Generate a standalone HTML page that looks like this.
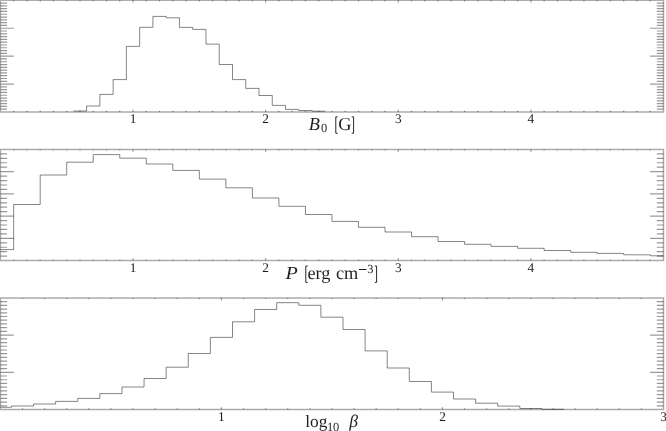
<!DOCTYPE html>
<html><head><meta charset="utf-8"><style>
html,body{margin:0;padding:0;background:#fff;width:666px;height:431px;overflow:hidden}
svg{display:block;will-change:transform;text-rendering:geometricPrecision}
.t{font-family:"Liberation Serif",serif;font-size:13.3px;text-anchor:middle;fill:#1e1e1e}
.ti{font-family:"Liberation Serif",serif;fill:#1e1e1e}
</style></head><body>
<svg width="666" height="431" viewBox="0 0 666 431">
<g fill="none" stroke="#000">
<path stroke-width="1.5" stroke-opacity="0.33" d="M0.4 0.3H663.5V112H0.4ZM0.4 149.4H663.5V260.6H0.4ZM0.4 297.9H663.5V409.5H0.4Z"/>
<path stroke-width="1.2" stroke-opacity="0.4" d="M13.66 112L13.66 110.8M13.66 0.3L13.66 1.5M26.92 112L26.92 110.8M26.92 0.3L26.92 1.5M40.19 112L40.19 110.8M40.19 0.3L40.19 1.5M53.45 112L53.45 110.8M53.45 0.3L53.45 1.5M66.71 112L66.71 110.8M66.71 0.3L66.71 1.5M79.97 112L79.97 110.8M79.97 0.3L79.97 1.5M93.23 112L93.23 110.8M93.23 0.3L93.23 1.5M106.5 112L106.5 110.8M106.5 0.3L106.5 1.5M119.76 112L119.76 110.8M119.76 0.3L119.76 1.5M133.02 112L133.02 109.7M133.02 0.3L133.02 2.6M146.28 112L146.28 110.8M146.28 0.3L146.28 1.5M159.54 112L159.54 110.8M159.54 0.3L159.54 1.5M172.81 112L172.81 110.8M172.81 0.3L172.81 1.5M186.07 112L186.07 110.8M186.07 0.3L186.07 1.5M199.33 112L199.33 110.8M199.33 0.3L199.33 1.5M212.59 112L212.59 110.8M212.59 0.3L212.59 1.5M225.85 112L225.85 110.8M225.85 0.3L225.85 1.5M239.12 112L239.12 110.8M239.12 0.3L239.12 1.5M252.38 112L252.38 110.8M252.38 0.3L252.38 1.5M265.64 112L265.64 109.7M265.64 0.3L265.64 2.6M278.9 112L278.9 110.8M278.9 0.3L278.9 1.5M292.16 112L292.16 110.8M292.16 0.3L292.16 1.5M305.43 112L305.43 110.8M305.43 0.3L305.43 1.5M318.69 112L318.69 110.8M318.69 0.3L318.69 1.5M331.95 112L331.95 110.8M331.95 0.3L331.95 1.5M345.21 112L345.21 110.8M345.21 0.3L345.21 1.5M358.47 112L358.47 110.8M358.47 0.3L358.47 1.5M371.74 112L371.74 110.8M371.74 0.3L371.74 1.5M385 112L385 110.8M385 0.3L385 1.5M398.26 112L398.26 109.7M398.26 0.3L398.26 2.6M411.52 112L411.52 110.8M411.52 0.3L411.52 1.5M424.78 112L424.78 110.8M424.78 0.3L424.78 1.5M438.05 112L438.05 110.8M438.05 0.3L438.05 1.5M451.31 112L451.31 110.8M451.31 0.3L451.31 1.5M464.57 112L464.57 110.8M464.57 0.3L464.57 1.5M477.83 112L477.83 110.8M477.83 0.3L477.83 1.5M491.09 112L491.09 110.8M491.09 0.3L491.09 1.5M504.36 112L504.36 110.8M504.36 0.3L504.36 1.5M517.62 112L517.62 110.8M517.62 0.3L517.62 1.5M530.88 112L530.88 109.7M530.88 0.3L530.88 2.6M544.14 112L544.14 110.8M544.14 0.3L544.14 1.5M557.4 112L557.4 110.8M557.4 0.3L557.4 1.5M570.67 112L570.67 110.8M570.67 0.3L570.67 1.5M583.93 112L583.93 110.8M583.93 0.3L583.93 1.5M597.19 112L597.19 110.8M597.19 0.3L597.19 1.5M610.45 112L610.45 110.8M610.45 0.3L610.45 1.5M623.71 112L623.71 110.8M623.71 0.3L623.71 1.5M636.98 112L636.98 110.8M636.98 0.3L636.98 1.5M650.24 112L650.24 110.8M650.24 0.3L650.24 1.5M0.4 3.09L7.1 3.09M663.5 3.09L656.8 3.09M0.4 5.88L7.1 5.88M663.5 5.88L656.8 5.88M0.4 8.68L7.1 8.68M663.5 8.68L656.8 8.68M0.4 11.47L7.1 11.47M663.5 11.47L656.8 11.47M0.4 14.26L7.1 14.26M663.5 14.26L656.8 14.26M0.4 17.06L7.1 17.06M663.5 17.06L656.8 17.06M0.4 19.85L7.1 19.85M663.5 19.85L656.8 19.85M0.4 22.64L7.1 22.64M663.5 22.64L656.8 22.64M0.4 25.43L7.1 25.43M663.5 25.43L656.8 25.43M0.4 28.23L13.8 28.23M663.5 28.23L650.1 28.23M0.4 31.02L7.1 31.02M663.5 31.02L656.8 31.02M0.4 33.81L7.1 33.81M663.5 33.81L656.8 33.81M0.4 36.6L7.1 36.6M663.5 36.6L656.8 36.6M0.4 39.39L7.1 39.39M663.5 39.39L656.8 39.39M0.4 42.19L7.1 42.19M663.5 42.19L656.8 42.19M0.4 44.98L7.1 44.98M663.5 44.98L656.8 44.98M0.4 47.77L7.1 47.77M663.5 47.77L656.8 47.77M0.4 50.56L7.1 50.56M663.5 50.56L656.8 50.56M0.4 53.36L7.1 53.36M663.5 53.36L656.8 53.36M0.4 56.15L13.8 56.15M663.5 56.15L650.1 56.15M0.4 58.94L7.1 58.94M663.5 58.94L656.8 58.94M0.4 61.73L7.1 61.73M663.5 61.73L656.8 61.73M0.4 64.53L7.1 64.53M663.5 64.53L656.8 64.53M0.4 67.32L7.1 67.32M663.5 67.32L656.8 67.32M0.4 70.11L7.1 70.11M663.5 70.11L656.8 70.11M0.4 72.91L7.1 72.91M663.5 72.91L656.8 72.91M0.4 75.7L7.1 75.7M663.5 75.7L656.8 75.7M0.4 78.49L7.1 78.49M663.5 78.49L656.8 78.49M0.4 81.28L7.1 81.28M663.5 81.28L656.8 81.28M0.4 84.08L13.8 84.08M663.5 84.08L650.1 84.08M0.4 86.87L7.1 86.87M663.5 86.87L656.8 86.87M0.4 89.66L7.1 89.66M663.5 89.66L656.8 89.66M0.4 92.45L7.1 92.45M663.5 92.45L656.8 92.45M0.4 95.25L7.1 95.25M663.5 95.25L656.8 95.25M0.4 98.04L7.1 98.04M663.5 98.04L656.8 98.04M0.4 100.83L7.1 100.83M663.5 100.83L656.8 100.83M0.4 103.62L7.1 103.62M663.5 103.62L656.8 103.62M0.4 106.42L7.1 106.42M663.5 106.42L656.8 106.42M0.4 109.21L7.1 109.21M663.5 109.21L656.8 109.21M13.66 260.6L13.66 259.4M13.66 149.4L13.66 150.6M26.92 260.6L26.92 259.4M26.92 149.4L26.92 150.6M40.19 260.6L40.19 259.4M40.19 149.4L40.19 150.6M53.45 260.6L53.45 259.4M53.45 149.4L53.45 150.6M66.71 260.6L66.71 259.4M66.71 149.4L66.71 150.6M79.97 260.6L79.97 259.4M79.97 149.4L79.97 150.6M93.23 260.6L93.23 259.4M93.23 149.4L93.23 150.6M106.5 260.6L106.5 259.4M106.5 149.4L106.5 150.6M119.76 260.6L119.76 259.4M119.76 149.4L119.76 150.6M133.02 260.6L133.02 258.3M133.02 149.4L133.02 151.7M146.28 260.6L146.28 259.4M146.28 149.4L146.28 150.6M159.54 260.6L159.54 259.4M159.54 149.4L159.54 150.6M172.81 260.6L172.81 259.4M172.81 149.4L172.81 150.6M186.07 260.6L186.07 259.4M186.07 149.4L186.07 150.6M199.33 260.6L199.33 259.4M199.33 149.4L199.33 150.6M212.59 260.6L212.59 259.4M212.59 149.4L212.59 150.6M225.85 260.6L225.85 259.4M225.85 149.4L225.85 150.6M239.12 260.6L239.12 259.4M239.12 149.4L239.12 150.6M252.38 260.6L252.38 259.4M252.38 149.4L252.38 150.6M265.64 260.6L265.64 258.3M265.64 149.4L265.64 151.7M278.9 260.6L278.9 259.4M278.9 149.4L278.9 150.6M292.16 260.6L292.16 259.4M292.16 149.4L292.16 150.6M305.43 260.6L305.43 259.4M305.43 149.4L305.43 150.6M318.69 260.6L318.69 259.4M318.69 149.4L318.69 150.6M331.95 260.6L331.95 259.4M331.95 149.4L331.95 150.6M345.21 260.6L345.21 259.4M345.21 149.4L345.21 150.6M358.47 260.6L358.47 259.4M358.47 149.4L358.47 150.6M371.74 260.6L371.74 259.4M371.74 149.4L371.74 150.6M385 260.6L385 259.4M385 149.4L385 150.6M398.26 260.6L398.26 258.3M398.26 149.4L398.26 151.7M411.52 260.6L411.52 259.4M411.52 149.4L411.52 150.6M424.78 260.6L424.78 259.4M424.78 149.4L424.78 150.6M438.05 260.6L438.05 259.4M438.05 149.4L438.05 150.6M451.31 260.6L451.31 259.4M451.31 149.4L451.31 150.6M464.57 260.6L464.57 259.4M464.57 149.4L464.57 150.6M477.83 260.6L477.83 259.4M477.83 149.4L477.83 150.6M491.09 260.6L491.09 259.4M491.09 149.4L491.09 150.6M504.36 260.6L504.36 259.4M504.36 149.4L504.36 150.6M517.62 260.6L517.62 259.4M517.62 149.4L517.62 150.6M530.88 260.6L530.88 258.3M530.88 149.4L530.88 151.7M544.14 260.6L544.14 259.4M544.14 149.4L544.14 150.6M557.4 260.6L557.4 259.4M557.4 149.4L557.4 150.6M570.67 260.6L570.67 259.4M570.67 149.4L570.67 150.6M583.93 260.6L583.93 259.4M583.93 149.4L583.93 150.6M597.19 260.6L597.19 259.4M597.19 149.4L597.19 150.6M610.45 260.6L610.45 259.4M610.45 149.4L610.45 150.6M623.71 260.6L623.71 259.4M623.71 149.4L623.71 150.6M636.98 260.6L636.98 259.4M636.98 149.4L636.98 150.6M650.24 260.6L650.24 259.4M650.24 149.4L650.24 150.6M0.4 153.85L7.1 153.85M663.5 153.85L656.8 153.85M0.4 158.3L7.1 158.3M663.5 158.3L656.8 158.3M0.4 162.74L7.1 162.74M663.5 162.74L656.8 162.74M0.4 167.19L7.1 167.19M663.5 167.19L656.8 167.19M0.4 171.64L13.8 171.64M663.5 171.64L650.1 171.64M0.4 176.09L7.1 176.09M663.5 176.09L656.8 176.09M0.4 180.54L7.1 180.54M663.5 180.54L656.8 180.54M0.4 184.98L7.1 184.98M663.5 184.98L656.8 184.98M0.4 189.43L7.1 189.43M663.5 189.43L656.8 189.43M0.4 193.88L13.8 193.88M663.5 193.88L650.1 193.88M0.4 198.33L7.1 198.33M663.5 198.33L656.8 198.33M0.4 202.78L7.1 202.78M663.5 202.78L656.8 202.78M0.4 207.22L7.1 207.22M663.5 207.22L656.8 207.22M0.4 211.67L7.1 211.67M663.5 211.67L656.8 211.67M0.4 216.12L13.8 216.12M663.5 216.12L650.1 216.12M0.4 220.57L7.1 220.57M663.5 220.57L656.8 220.57M0.4 225.02L7.1 225.02M663.5 225.02L656.8 225.02M0.4 229.46L7.1 229.46M663.5 229.46L656.8 229.46M0.4 233.91L7.1 233.91M663.5 233.91L656.8 233.91M0.4 238.36L13.8 238.36M663.5 238.36L650.1 238.36M0.4 242.81L7.1 242.81M663.5 242.81L656.8 242.81M0.4 247.26L7.1 247.26M663.5 247.26L656.8 247.26M0.4 251.7L7.1 251.7M663.5 251.7L656.8 251.7M0.4 256.15L7.1 256.15M663.5 256.15L656.8 256.15M22.5 409.5L22.5 408.3M22.5 297.9L22.5 299.1M44.61 409.5L44.61 408.3M44.61 297.9L44.61 299.1M66.71 409.5L66.71 408.3M66.71 297.9L66.71 299.1M88.81 409.5L88.81 408.3M88.81 297.9L88.81 299.1M110.92 409.5L110.92 408.3M110.92 297.9L110.92 299.1M133.02 409.5L133.02 408.3M133.02 297.9L133.02 299.1M155.12 409.5L155.12 408.3M155.12 297.9L155.12 299.1M177.23 409.5L177.23 408.3M177.23 297.9L177.23 299.1M199.33 409.5L199.33 408.3M199.33 297.9L199.33 299.1M221.43 409.5L221.43 407.2M221.43 297.9L221.43 300.2M243.54 409.5L243.54 408.3M243.54 297.9L243.54 299.1M265.64 409.5L265.64 408.3M265.64 297.9L265.64 299.1M287.74 409.5L287.74 408.3M287.74 297.9L287.74 299.1M309.85 409.5L309.85 408.3M309.85 297.9L309.85 299.1M331.95 409.5L331.95 408.3M331.95 297.9L331.95 299.1M354.05 409.5L354.05 408.3M354.05 297.9L354.05 299.1M376.16 409.5L376.16 408.3M376.16 297.9L376.16 299.1M398.26 409.5L398.26 408.3M398.26 297.9L398.26 299.1M420.36 409.5L420.36 408.3M420.36 297.9L420.36 299.1M442.47 409.5L442.47 407.2M442.47 297.9L442.47 300.2M464.57 409.5L464.57 408.3M464.57 297.9L464.57 299.1M486.67 409.5L486.67 408.3M486.67 297.9L486.67 299.1M508.78 409.5L508.78 408.3M508.78 297.9L508.78 299.1M530.88 409.5L530.88 408.3M530.88 297.9L530.88 299.1M552.98 409.5L552.98 408.3M552.98 297.9L552.98 299.1M575.09 409.5L575.09 408.3M575.09 297.9L575.09 299.1M597.19 409.5L597.19 408.3M597.19 297.9L597.19 299.1M619.29 409.5L619.29 408.3M619.29 297.9L619.29 299.1M641.4 409.5L641.4 408.3M641.4 297.9L641.4 299.1M0.4 301.62L7.1 301.62M663.5 301.62L656.8 301.62M0.4 305.34L7.1 305.34M663.5 305.34L656.8 305.34M0.4 309.06L7.1 309.06M663.5 309.06L656.8 309.06M0.4 312.78L7.1 312.78M663.5 312.78L656.8 312.78M0.4 316.5L7.1 316.5M663.5 316.5L656.8 316.5M0.4 320.22L7.1 320.22M663.5 320.22L656.8 320.22M0.4 323.94L7.1 323.94M663.5 323.94L656.8 323.94M0.4 327.66L7.1 327.66M663.5 327.66L656.8 327.66M0.4 331.38L7.1 331.38M663.5 331.38L656.8 331.38M0.4 335.1L13.8 335.1M663.5 335.1L650.1 335.1M0.4 338.82L7.1 338.82M663.5 338.82L656.8 338.82M0.4 342.54L7.1 342.54M663.5 342.54L656.8 342.54M0.4 346.26L7.1 346.26M663.5 346.26L656.8 346.26M0.4 349.98L7.1 349.98M663.5 349.98L656.8 349.98M0.4 353.7L7.1 353.7M663.5 353.7L656.8 353.7M0.4 357.42L7.1 357.42M663.5 357.42L656.8 357.42M0.4 361.14L7.1 361.14M663.5 361.14L656.8 361.14M0.4 364.86L7.1 364.86M663.5 364.86L656.8 364.86M0.4 368.58L7.1 368.58M663.5 368.58L656.8 368.58M0.4 372.3L13.8 372.3M663.5 372.3L650.1 372.3M0.4 376.02L7.1 376.02M663.5 376.02L656.8 376.02M0.4 379.74L7.1 379.74M663.5 379.74L656.8 379.74M0.4 383.46L7.1 383.46M663.5 383.46L656.8 383.46M0.4 387.18L7.1 387.18M663.5 387.18L656.8 387.18M0.4 390.9L7.1 390.9M663.5 390.9L656.8 390.9M0.4 394.62L7.1 394.62M663.5 394.62L656.8 394.62M0.4 398.34L7.1 398.34M663.5 398.34L656.8 398.34M0.4 402.06L7.1 402.06M663.5 402.06L656.8 402.06M0.4 405.78L7.1 405.78M663.5 405.78L656.8 405.78"/>
<g stroke-width="1" stroke-opacity="0.48">
<path d="M73.34 111H86.6V106H99.87V94.4H113.13V79.6H126.39V46.4H139.65V27.3H152.91V16.4H166.18V17.8H179.44V27.4H192.7V29.4H205.96V44.1H219.22V64.5H232.49V79.6H245.75V88.4H259.01V95.5H272.27V105.4H285.53V109.4H298.8V110.5H312.06V111.2H325.32"/>
<path d="M0.4 249.6H13.66V204.5H40.19V175H66.71V162.2H93.23V154.6H119.76V158.2H146.28V164H172.81V170.4H199.33V179.1H225.85V187.8H252.38V198H278.9V206.3H305.43V214.5H331.95V221.4H358.47V227.3H385V232H411.52V236.7H438.05V241.5H464.57V244.3H491.09V246.4H517.62V248.3H544.14V250.5H570.67V252.3H597.19V253.4H623.71V254.8H650.24V255.8H663.5"/>
<path d="M0.4 407.3H11.45V406H33.56V404H55.66V401.4H77.76V398.4H99.87V393.6H121.97V387H144.07V378.5H166.18V367.2H188.28V353.5H210.38V337.4H232.49V321.8H254.59V309.5H276.69V302.7H298.8V305.3H320.9V317.2H343V329.5H365.11V350.9H387.21V368H409.31V381.5H431.42V392.1H453.52V399H475.62V403.2H497.73V406.1H519.83V408.5H541.93V409.3H564.03"/>
</g>
</g>
<g class="t">
<text x="133.02" y="123">1</text>
<text x="265.64" y="123">2</text>
<text x="398.26" y="123">3</text>
<text x="530.88" y="123">4</text>
<text x="133.02" y="271.6">1</text>
<text x="265.64" y="271.6">2</text>
<text x="398.26" y="271.6">3</text>
<text x="530.88" y="271.6">4</text>
<text x="221.43" y="420.5">1</text>
<text x="442.47" y="420.5">2</text>
<text x="663.5" y="420.5">3</text>
</g>
<g class="ti">
<text x="308.8" y="129.8" font-size="18.3" font-style="italic">B</text>
<text x="320.9" y="132.3" font-size="12.4">0</text>
<text x="338.2" y="129.8" font-size="18.3">G</text>
<text transform="translate(285.4 278.8) scale(1.1 1)" font-size="18.3" font-style="italic">P</text>
<text x="307.4" y="278.8" font-size="18.3">erg</text>
<text x="335.9" y="278.8" font-size="18.3">cm</text>
<text x="367.3" y="273" font-size="12.4">3</text>
<text x="305.2" y="426.6" font-size="17.3">log</text>
<text x="326.9" y="431.4" font-size="12.4">10</text>
<text x="349.2" y="427.2" font-size="17.6" font-style="italic">β</text>
<rect x="359" y="269.1" width="7.4" height="0.9" fill="#000"/><path d="M337.7 116.85H335.8V133.25H337.7M351.8 116.85H353.6V133.25H351.8M307.7 266.05H305.8V282.35H307.7M374.8 266.05H376.6V282.35H374.8" fill="none" stroke="#000" stroke-width="0.85"/>
</g>
</svg>
</body></html>
